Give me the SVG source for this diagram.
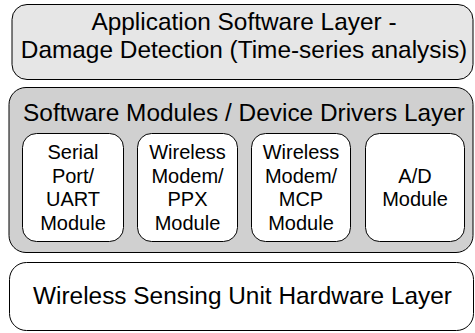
<svg xmlns="http://www.w3.org/2000/svg" width="475" height="333" viewBox="0 0 475 333">
<style>
.box{stroke:#000;stroke-width:1}
.t{font-family:"Liberation Sans",Arial,sans-serif;fill:#000;text-anchor:middle}
.big{font-size:24.4px}
.sm{font-size:20px}
</style>
<rect x="0" y="0" width="475" height="333" fill="#fff"/>
<g id="app-layer">
<rect class="box" x="12" y="4.5" width="461" height="75" rx="15" fill="#e6e6e6"/>
<text class="t big" x="244" y="30">Application Software Layer -</text>
<text class="t big" x="244" y="58">Damage Detection (Time-series analysis)</text>
</g>
<g id="modules-layer">
<rect class="box" x="9" y="87.5" width="464" height="165" rx="17" fill="#d0d0d0"/>
<text class="t big" x="244" y="121">Software Modules / Device Drivers Layer</text>
</g>
<g id="uart">
<rect class="box" x="22.5" y="133.5" width="101" height="108" rx="14" fill="#fff"/>
<text class="t sm" x="73" y="159">Serial</text>
<text class="t sm" x="73" y="183">Port/</text>
<text class="t sm" x="73" y="206">UART</text>
<text class="t sm" x="73" y="230">Module</text>
</g>
<g id="ppx">
<rect class="box" x="137.5" y="133.5" width="100" height="108" rx="14" fill="#fff"/>
<text class="t sm" x="187.5" y="159">Wireless</text>
<text class="t sm" x="187.5" y="183">Modem/</text>
<text class="t sm" x="187.5" y="206">PPX</text>
<text class="t sm" x="187.5" y="230">Module</text>
</g>
<g id="mcp">
<rect class="box" x="251.5" y="133.5" width="99" height="108" rx="14" fill="#fff"/>
<text class="t sm" x="301" y="159">Wireless</text>
<text class="t sm" x="301" y="183">Modem/</text>
<text class="t sm" x="301" y="206">MCP</text>
<text class="t sm" x="301" y="230">Module</text>
</g>
<g id="ad">
<rect class="box" x="365.5" y="133.5" width="99" height="108" rx="14" fill="#fff"/>
<text class="t sm" x="415" y="183">A/D</text>
<text class="t sm" x="415" y="206">Module</text>
</g>
<g id="hw-layer">
<rect class="box" x="9.5" y="262.5" width="464" height="68" rx="17" fill="#fff"/>
<text class="t big" x="242.5" y="304">Wireless Sensing Unit Hardware Layer</text>
</g>
<g id="connectors"></g>
</svg>
